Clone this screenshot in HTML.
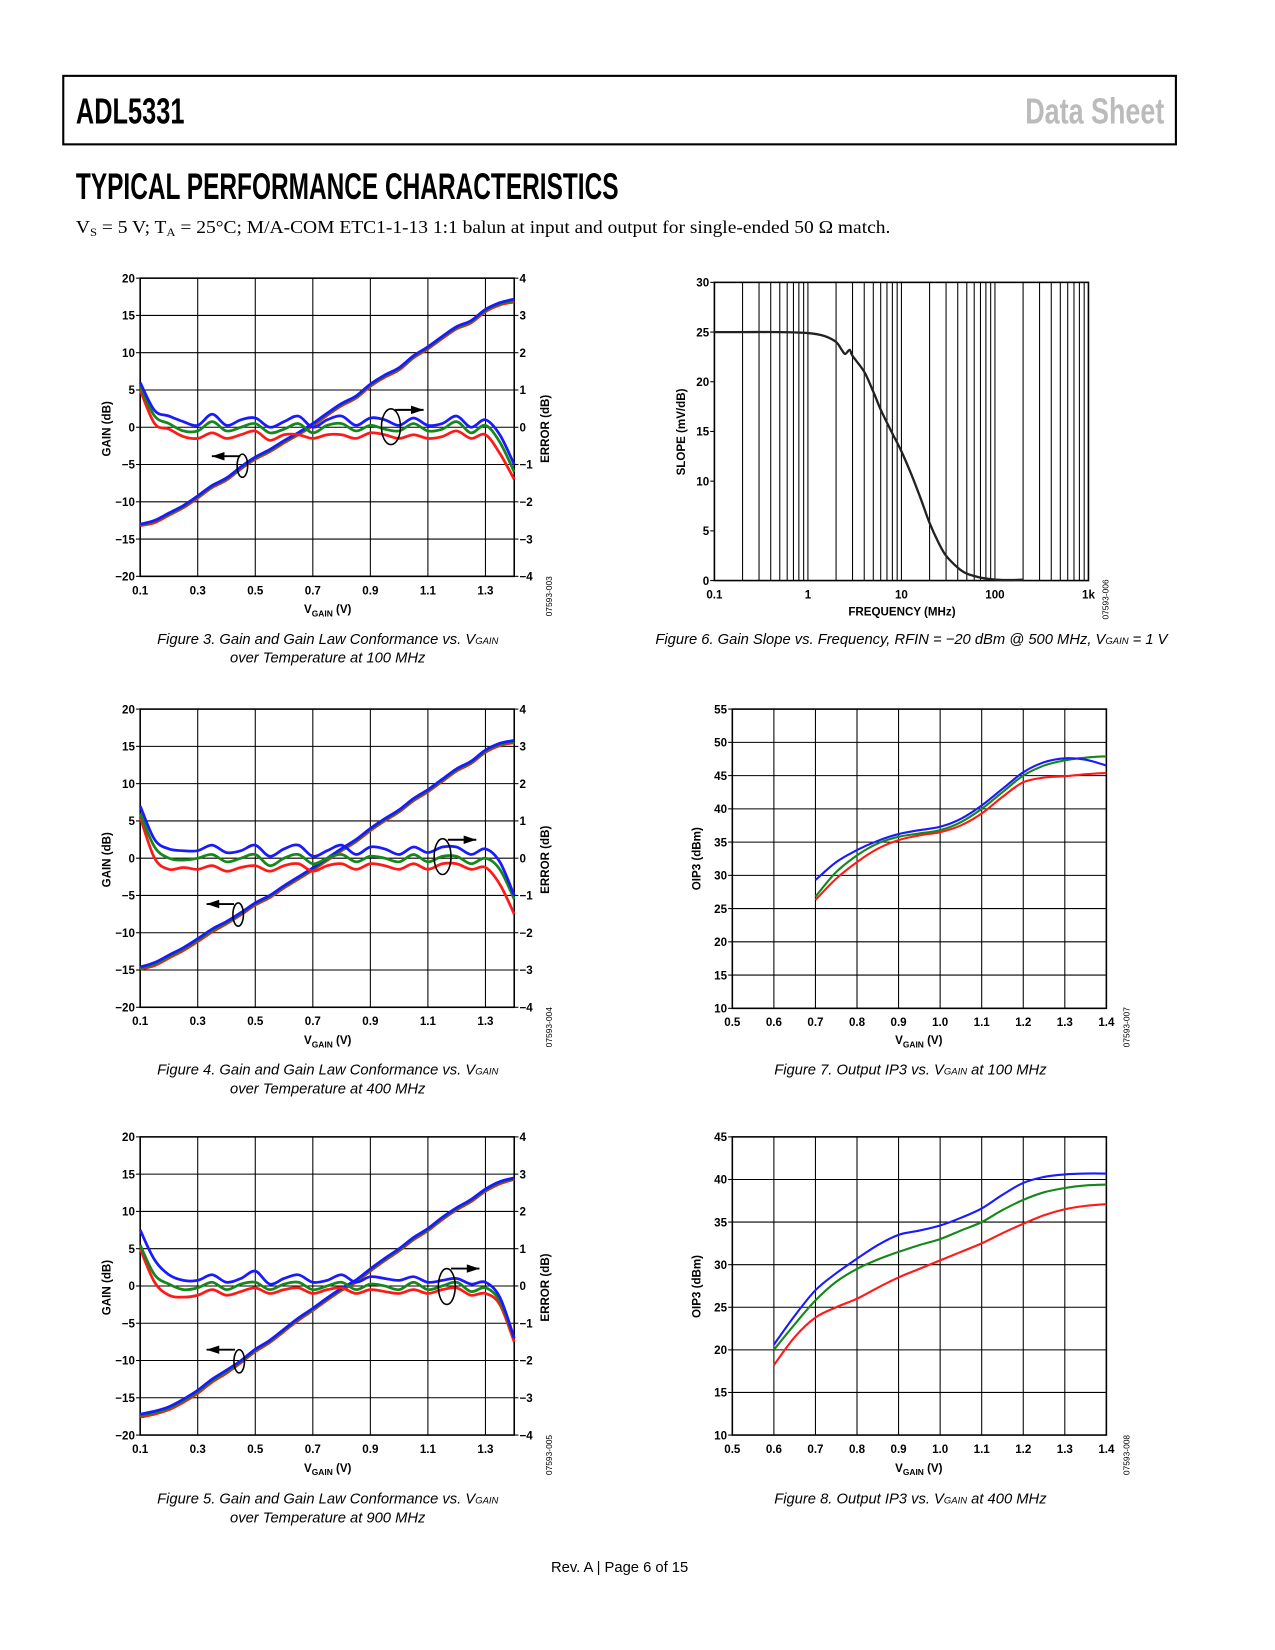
<!DOCTYPE html>
<html><head><meta charset="utf-8"><style>
html,body{margin:0;padding:0;background:#fff;}
svg{display:block;}
text{font-family:"Liberation Sans",sans-serif;}
.tk{font-size:11px;font-weight:bold;}
.ttl{font-size:11px;font-weight:bold;}
.cap{font-size:14px;font-style:italic;}
.fid{font-size:8px;}
</style></head><body>
<svg id="page" width="1275" height="1650" viewBox="0 0 1210 1566" xmlns="http://www.w3.org/2000/svg">
<rect x="0" y="0" width="1210" height="1566" fill="#fff"/>
<rect x="60" y="72" width="1056" height="65" fill="none" stroke="#000" stroke-width="2"/>
<text x="72" y="117" font-size="34" font-weight="bold" textLength="103" lengthAdjust="spacingAndGlyphs">ADL5331</text>
<text x="973" y="117" font-size="34" font-weight="bold" fill="#bbb" textLength="132" lengthAdjust="spacingAndGlyphs">Data Sheet</text>
<text x="72" y="189" font-size="35" font-weight="bold" textLength="515" lengthAdjust="spacingAndGlyphs">TYPICAL PERFORMANCE CHARACTERISTICS</text>
<text x="72" y="221" font-size="17" font-family="Liberation Serif,serif" style="font-family:'Liberation Serif',serif" textLength="773" lengthAdjust="spacingAndGlyphs">V<tspan font-size="11" dy="3">S</tspan><tspan dy="-3"> = 5 V; T</tspan><tspan font-size="11" dy="3">A</tspan><tspan dy="-3"> = 25°C; M/A-COM ETC1-1-13 1:1 balun at input and output for single-ended 50 Ω match.</tspan></text>
<text x="588" y="1492" font-size="14" text-anchor="middle">Rev. A | Page 6 of 15</text>
</svg>
<script>
const NS='http://www.w3.org/2000/svg';
const svg=document.getElementById('page');

const vgain27=[0.1,0.15,0.2,0.25,0.3,0.35,0.4,0.45,0.5,0.55,0.6,0.65,0.7,0.75,0.8,0.85,0.9,0.95,1.0,1.05,1.1,1.15,1.2,1.25,1.3,1.35,1.4];
const gainXTicks=[0.1,0.3,0.5,0.7,0.9,1.1,1.3];
const gainYTicks=[-20,-15,-10,-5,0,5,10,15,20];
const errYTicks=[-4,-3,-2,-1,0,1,2,3,4];

const f3GainBlue=[-13,-12.5,-11.5,-10.5,-9.2,-7.8,-6.8,-5.3,-4,-3,-1.8,-0.7,0.5,1.9,3.2,4.2,5.8,7,8,9.6,10.8,12.2,13.5,14.3,15.8,16.7,17.2];
const f3GainGreen=[-13.1,-12.6,-11.65,-10.65,-9.35,-7.95,-6.95,-5.45,-4.15,-3.15,-1.95,-0.85,0.35,1.75,3.05,4.05,5.65,6.85,7.85,9.45,10.65,12.05,13.35,14.15,15.65,16.55,17.0];
const f3GainRed=[-13.2,-12.8,-11.8,-10.8,-9.5,-8.1,-7.1,-5.6,-4.3,-3.3,-2.1,-1,0.2,1.6,2.9,3.9,5.5,6.7,7.7,9.3,10.5,11.9,13.2,14,15.5,16.4,16.8];
const f3ErrBlue=[1.2,0.45,0.3,0.15,0.05,0.35,0.05,0.2,0.25,0.0,0.15,0.3,0.0,0.2,0.3,0.05,0.25,0.2,0.05,0.25,0.05,0.1,0.3,0.0,0.2,-0.2,-1.0];
const f3ErrGreen=[1.1,0.3,0.1,-0.1,-0.1,0.15,-0.1,0.0,0.1,-0.15,-0.05,0.1,-0.15,0.05,0.1,-0.1,0.05,-0.05,-0.1,0.1,-0.1,-0.05,0.15,-0.15,0.05,-0.4,-1.2];
const f3ErrRed=[1.0,0.1,-0.05,-0.25,-0.3,-0.15,-0.3,-0.2,-0.1,-0.35,-0.2,-0.2,-0.3,-0.2,-0.2,-0.3,-0.15,-0.2,-0.3,-0.2,-0.3,-0.25,-0.1,-0.3,-0.2,-0.7,-1.4];

const f4GainBlue=[-14.6,-14,-13,-12,-10.8,-9.5,-8.5,-7.3,-6,-5,-3.7,-2.5,-1.3,0,1.3,2.5,4,5.3,6.5,8,9.2,10.6,12,13,14.5,15.4,15.8];
const f4GainGreen=[-14.75,-14.2,-13.2,-12.2,-11,-9.7,-8.65,-7.45,-6.15,-5.15,-3.85,-2.65,-1.45,-0.15,1.15,2.35,3.85,5.15,6.35,7.85,9.05,10.45,11.85,12.85,14.35,15.25,15.65];
const f4GainRed=[-14.9,-14.4,-13.4,-12.4,-11.2,-9.9,-8.8,-7.6,-6.3,-5.3,-4,-2.8,-1.6,-0.3,1,2.2,3.7,5,6.2,7.7,8.9,10.3,11.7,12.7,14.2,15.1,15.5];
const f4ErrBlue=[1.4,0.5,0.25,0.2,0.2,0.35,0.15,0.2,0.35,0.05,0.25,0.35,0.05,0.2,0.35,0.1,0.3,0.25,0.1,0.3,0.15,0.3,0.3,0.1,0.25,-0.1,-1.0];
const f4ErrGreen=[1.2,0.3,0.0,-0.05,0.0,0.1,-0.1,0.0,0.1,-0.2,0.0,0.1,-0.15,0.0,0.1,-0.1,0.05,0.0,-0.1,0.1,-0.1,0.05,0.05,-0.15,0.0,-0.3,-1.1];
const f4ErrRed=[1.1,0.0,-0.3,-0.25,-0.3,-0.2,-0.35,-0.25,-0.2,-0.35,-0.2,-0.15,-0.35,-0.2,-0.15,-0.3,-0.15,-0.2,-0.3,-0.15,-0.3,-0.15,-0.15,-0.3,-0.25,-0.7,-1.5];

const f5GainBlue=[-17.2,-16.8,-16.2,-15.2,-14,-12.5,-11.3,-10,-8.5,-7.3,-5.8,-4.3,-3,-1.6,-0.3,0.8,2.3,3.7,5,6.5,7.7,9.2,10.5,11.6,13,14,14.5];
const f5GainGreen=[-17.4,-17,-16.4,-15.4,-14.2,-12.7,-11.5,-10.15,-8.65,-7.45,-5.95,-4.45,-3.15,-1.75,-0.45,0.65,2.15,3.55,4.85,6.35,7.55,9.05,10.35,11.45,12.85,13.85,14.4];
const f5GainRed=[-17.6,-17.2,-16.6,-15.6,-14.4,-12.9,-11.7,-10.3,-8.8,-7.6,-6.1,-4.6,-3.3,-1.9,-0.6,0.5,2.0,3.4,4.7,6.2,7.4,8.9,10.2,11.3,12.7,13.7,14.3];
const f5ErrBlue=[1.5,0.7,0.3,0.15,0.15,0.3,0.1,0.2,0.4,0.05,0.2,0.3,0.1,0.15,0.3,0.1,0.25,0.2,0.15,0.25,0.1,0.15,0.2,0.05,0.1,-0.3,-1.4];
const f5ErrGreen=[1.1,0.3,0.05,-0.1,-0.05,0.1,-0.1,0.05,0.1,-0.1,0.05,0.1,-0.1,0.0,0.1,-0.1,0.05,0.0,-0.1,0.1,-0.1,0.0,0.1,-0.15,-0.05,-0.4,-1.4];
const f5ErrRed=[1.0,0.1,-0.25,-0.3,-0.25,-0.1,-0.25,-0.15,-0.05,-0.2,-0.1,-0.05,-0.2,-0.1,-0.05,-0.2,-0.1,-0.15,-0.2,-0.1,-0.2,-0.1,-0.05,-0.25,-0.2,-0.5,-1.5];

const f6Freq=[0.1,0.2,0.5,1,1.5,2,2.3,2.5,2.8,3,4,5,6,8,10,13,16,20,25,30,40,50,70,100,150,200];
const f6Slope=[25,25,25,24.9,24.6,24,23.2,22.8,23.2,22.6,21,19,17.2,14.8,13,10.5,8.3,5.8,3.8,2.5,1.3,0.7,0.3,0.1,0.05,0.1];
const f6XTicks=[0.1,1,10,100,1000];
const f6XLabels=['0.1','1','10','100','1k'];
const f6YTicks=[0,5,10,15,20,25,30];

const oipXTicks=[0.5,0.6,0.7,0.8,0.9,1.0,1.1,1.2,1.3,1.4];
const oipXLabels=['0.5','0.6','0.7','0.8','0.9','1.0','1.1','1.2','1.3','1.4'];
const f7V=[0.7,0.75,0.8,0.85,0.9,0.95,1.0,1.05,1.1,1.15,1.2,1.25,1.3,1.35,1.4];
const f7Blue=[29.3,32,33.8,35.2,36.2,36.8,37.3,38.5,40.5,43,45.5,47,47.6,47.4,46.5];
const f7Green=[26.8,30.5,33,34.8,35.8,36.3,36.8,38,40,42.5,45,46.5,47.3,47.7,47.9];
const f7Red=[26.3,29.5,32,34,35.3,36,36.5,37.5,39.3,41.8,44,44.7,44.9,45.2,45.4];
const f7YTicks=[10,15,20,25,30,35,40,45,50,55];
const f8V=[0.6,0.65,0.7,0.75,0.8,0.85,0.9,0.95,1.0,1.05,1.1,1.15,1.2,1.25,1.3,1.35,1.4];
const f8Blue=[20.6,24,27,29,30.7,32.3,33.5,34,34.6,35.5,36.6,38.2,39.6,40.3,40.6,40.7,40.7];
const f8Green=[20,23,25.8,28,29.5,30.6,31.5,32.3,33,34,35,36.4,37.6,38.5,39,39.3,39.4];
const f8Red=[18.2,21.5,23.8,25,26,27.3,28.5,29.5,30.5,31.5,32.5,33.7,34.8,35.8,36.5,36.9,37.1];
const f8YTicks=[10,15,20,25,30,35,40,45];

const BLUE='#1a1aff',GREEN='#14881a',RED='#ff1a1a';

function mk(tag,attrs,parent){const e=document.createElementNS(NS,tag);for(const k in attrs)e.setAttribute(k,attrs[k]);(parent||svg).appendChild(e);return e;}
function smooth(pts){
  let d='M'+pts[0][0].toFixed(1)+','+pts[0][1].toFixed(1);
  for(let i=0;i<pts.length-1;i++){
    const p0=pts[Math.max(0,i-1)],p1=pts[i],p2=pts[i+1],p3=pts[Math.min(pts.length-1,i+2)];
    const c1=[p1[0]+(p2[0]-p0[0])/6,p1[1]+(p2[1]-p0[1])/6];
    const c2=[p2[0]-(p3[0]-p1[0])/6,p2[1]-(p3[1]-p1[1])/6];
    d+='C'+c1[0].toFixed(1)+','+c1[1].toFixed(1)+' '+c2[0].toFixed(1)+','+c2[1].toFixed(1)+' '+p2[0].toFixed(1)+','+p2[1].toFixed(1);
  }
  return d;
}
function txt(g,x,y,s,cls,anchor,name){
  const t=mk('text',{x:x,y:y,class:cls,'text-anchor':anchor||'middle'},g);
  
  
  t.textContent=s;return t;
}
function vgainTitle(g,cx,y,name){
  const t=mk('text',{x:cx,y:y,class:'ttl','text-anchor':'middle'},g);
  
  
  t.innerHTML='V<tspan font-size="8" dy="3">GAIN</tspan><tspan dy="-3"> (V)</tspan>';
}
function rotTitle(g,x,y,s,name){
  const t=mk('text',{x:0,y:0,class:'ttl','text-anchor':'middle',transform:'translate('+x+','+y+') rotate(-90)'},g);
  
  
  t.textContent=s;
}
function chart(c){
  const g=mk('g',{});
  
  
  const X=v=>c.log? c.x0+(Math.log10(v)-Math.log10(c.xmin))/(Math.log10(c.xmax)-Math.log10(c.xmin))*(c.x1-c.x0) : c.x0+(v-c.xmin)/(c.xmax-c.xmin)*(c.x1-c.x0);
  const Y=v=>c.y1-(v-c.ymin)/(c.ymax-c.ymin)*(c.y1-c.y0);
  const Y2=v=>c.y1-(v-c.y2min)/(c.y2max-c.y2min)*(c.y1-c.y0);
  // grid
  (c.xgrid||[]).forEach(v=>{const l=mk('line',{x1:X(v),x2:X(v),y1:c.y0,y2:c.y1,stroke:'#000','stroke-width':1},g);
    
    });
  (c.ygrid||[]).forEach(v=>{const l=mk('line',{x1:c.x0,x2:c.x1,y1:Y(v),y2:Y(v),stroke:'#000','stroke-width':1},g);
    
    });
  const fr=mk('rect',{x:c.x0,y:c.y0,width:c.x1-c.x0,height:c.y1-c.y0,fill:'none',stroke:'#000','stroke-width':1.5},g);
  
  
  // ticks labels
  c.yticks.forEach(v=>{txt(g,c.x0-5,Y(v)+4,v<0?'\u2212'+(-v):String(v),'tk','end','y-tick-label');
    const t=mk('line',{x1:c.x0-4,x2:c.x0,y1:Y(v),y2:Y(v),stroke:'#000'},g);
    
    });
  if(c.y2ticks) c.y2ticks.forEach(v=>{txt(g,c.x1+5,Y2(v)+4,v<0?'\u2212'+(-v):String(v),'tk','start','y2-tick-label');
    const t=mk('line',{x1:c.x1,x2:c.x1+4,y1:Y2(v),y2:Y2(v),stroke:'#000'},g);
    
    });
  c.xticks.forEach((v,i)=>{txt(g,X(v),c.y1+17,c.xlabels?c.xlabels[i]:String(v),'tk','middle','x-tick-label');});
  // series
  c.series.forEach(s=>{
    const f=s.axis==='y2'?Y2:Y;
    const pts=s.xs.map((x,i)=>[X(x),f(s.ys[i])]);
    const p=mk('path',{d:smooth(pts),fill:'none',stroke:s.color,'stroke-width':c.sw||2.6,'stroke-linejoin':'round'},g);
    
    
  });
  return g;
}
function ann(g,cx,cy,rx,ry,ax,ay,bx,name){
  const e=mk('ellipse',{cx:cx,cy:cy,rx:rx,ry:ry,fill:'none',stroke:'#000','stroke-width':1.5},g);
  
  
  const l=mk('line',{x1:ax,y1:ay,x2:bx,y2:ay,stroke:'#000','stroke-width':1.8},g);
  
  
  const dir=bx<ax?1:-1;
  const h=mk('polygon',{points:bx+','+ay+' '+(bx+dir*12)+','+(ay-4)+' '+(bx+dir*12)+','+(ay+4),fill:'#000'},g);
  
  
}
function caption(lines,cx,y,name){
  const t=mk('text',{x:cx,y:y,class:'cap','text-anchor':'middle'});
  
  
  t.innerHTML=lines;
}
function fid(x,y,s){
  const t=mk('text',{x:0,y:0,class:'fid',transform:'translate('+x+','+y+') rotate(-90)'});
  
  
  t.textContent=s;
}
function gainChart(name,y0,gb,gg,gr,eb,eg,er){
  const c={name:name,x0:133,x1:488,y0:y0,y1:y0+283,xmin:0.1,xmax:1.4,ymin:-20,ymax:20,y2min:-4,y2max:4,
    xticks:gainXTicks,yticks:gainYTicks,y2ticks:errYTicks,xgrid:[0.3,0.5,0.7,0.9,1.1,1.3],ygrid:[-15,-10,-5,0,5,10,15],
    series:[
      {name:'gain-red',xs:vgain27,ys:gr,color:RED},{name:'gain-green',xs:vgain27,ys:gg,color:GREEN},{name:'gain-blue',xs:vgain27,ys:gb,color:BLUE},
      {name:'error-red',xs:vgain27,ys:er,color:RED,axis:'y2'},{name:'error-green',xs:vgain27,ys:eg,color:GREEN,axis:'y2'},{name:'error-blue',xs:vgain27,ys:eb,color:BLUE,axis:'y2'}]};
  const g=chart(c);
  rotTitle(g,105,y0+143,'GAIN (dB)','y-axis-title');
  rotTitle(g,521,y0+143,'ERROR (dB)','y2-axis-title');
  vgainTitle(g,311,y0+318,'x-axis-title');
  return g;
}
const g3=gainChart('figure-3-chart',264,f3GainBlue,f3GainGreen,f3GainRed,f3ErrBlue,f3ErrGreen,f3ErrRed);
ann(g3,230,442,5,11,228,433,201,'gain-annotation');
ann(g3,371,405,9,17,375,389,402,'error-annotation');
const g4=gainChart('figure-4-chart',673,f4GainBlue,f4GainGreen,f4GainRed,f4ErrBlue,f4ErrGreen,f4ErrRed);
ann(g4,226,868,5,11,222,858,196,'gain-annotation');
ann(g4,420,813,8,17,425,797,452,'error-annotation');
const g5=gainChart('figure-5-chart',1079,f5GainBlue,f5GainGreen,f5GainRed,f5ErrBlue,f5ErrGreen,f5ErrRed);
ann(g5,227,1292,5,11,223,1281,196,'gain-annotation');
ann(g5,424,1221,8,17,428,1204,455,'error-annotation');

// fig 6
const f6Grid=[];
[0.1,1,10,100].forEach(d=>{for(let k=1;k<=9;k++){f6Grid.push(d*k);}});
f6Grid.push(1000);
const g6=chart({name:'figure-6-chart',x0:678,x1:1033,y0:268,y1:551,xmin:0.1,xmax:1000,log:true,ymin:0,ymax:30,
  xticks:f6XTicks,xlabels:f6XLabels,yticks:f6YTicks,xgrid:f6Grid,ygrid:[],sw:2.2,
  series:[{name:'slope-curve',xs:f6Freq,ys:f6Slope,color:'#222'}]});
rotTitle(g6,650,410,'SLOPE (mV/dB)','y-axis-title');
txt(g6,856,584,'FREQUENCY (MHz)','ttl','middle','x-axis-title');

const g7=chart({name:'figure-7-chart',x0:695,x1:1050,y0:673,y1:957,xmin:0.5,xmax:1.4,ymin:10,ymax:55,
  xticks:oipXTicks,xlabels:oipXLabels,yticks:f7YTicks,xgrid:[0.6,0.7,0.8,0.9,1.0,1.1,1.2,1.3],ygrid:[15,20,25,30,35,40,45,50],sw:2,
  series:[{name:'oip3-red',xs:f7V,ys:f7Red,color:RED},{name:'oip3-green',xs:f7V,ys:f7Green,color:GREEN},{name:'oip3-blue',xs:f7V,ys:f7Blue,color:BLUE}]});
rotTitle(g7,665,815,'OIP3 (dBm)','y-axis-title');
vgainTitle(g7,872,991,'x-axis-title');

const g8=chart({name:'figure-8-chart',x0:695,x1:1050,y0:1079,y1:1362,xmin:0.5,xmax:1.4,ymin:10,ymax:45,
  xticks:oipXTicks,xlabels:oipXLabels,yticks:f8YTicks,xgrid:[0.6,0.7,0.8,0.9,1.0,1.1,1.2,1.3],ygrid:[15,20,25,30,35,40],sw:2,
  series:[{name:'oip3-red',xs:f8V,ys:f8Red,color:RED},{name:'oip3-green',xs:f8V,ys:f8Green,color:GREEN},{name:'oip3-blue',xs:f8V,ys:f8Blue,color:BLUE}]});
rotTitle(g8,665,1221,'OIP3 (dBm)','y-axis-title');
vgainTitle(g8,872,1397,'x-axis-title');

caption('Figure 3. Gain and Gain Law Conformance vs. V<tspan font-size="9">GAIN</tspan><tspan x="311" dy="18">over Temperature at 100 MHz</tspan>',311,611,'figure-3-caption');
caption('Figure 4. Gain and Gain Law Conformance vs. V<tspan font-size="9">GAIN</tspan><tspan x="311" dy="18">over Temperature at 400 MHz</tspan>',311,1020,'figure-4-caption');
caption('Figure 5. Gain and Gain Law Conformance vs. V<tspan font-size="9">GAIN</tspan><tspan x="311" dy="18">over Temperature at 900 MHz</tspan>',311,1427,'figure-5-caption');
caption('Figure 6. Gain Slope vs. Frequency, RFIN = \u221220 dBm @ 500 MHz, V<tspan font-size="9">GAIN</tspan> = 1 V',865,611,'figure-6-caption');
caption('Figure 7. Output IP3 vs. V<tspan font-size="9">GAIN</tspan> at 100 MHz',864,1020,'figure-7-caption');
caption('Figure 8. Output IP3 vs. V<tspan font-size="9">GAIN</tspan> at 400 MHz',864,1427,'figure-8-caption');

fid(524,585,'07593-003');
fid(1052,588,'07593-006');
fid(524,994,'07593-004');
fid(1072,994,'07593-007');
fid(524,1400,'07593-005');
fid(1072,1400,'07593-008');
</script>
</body></html>
